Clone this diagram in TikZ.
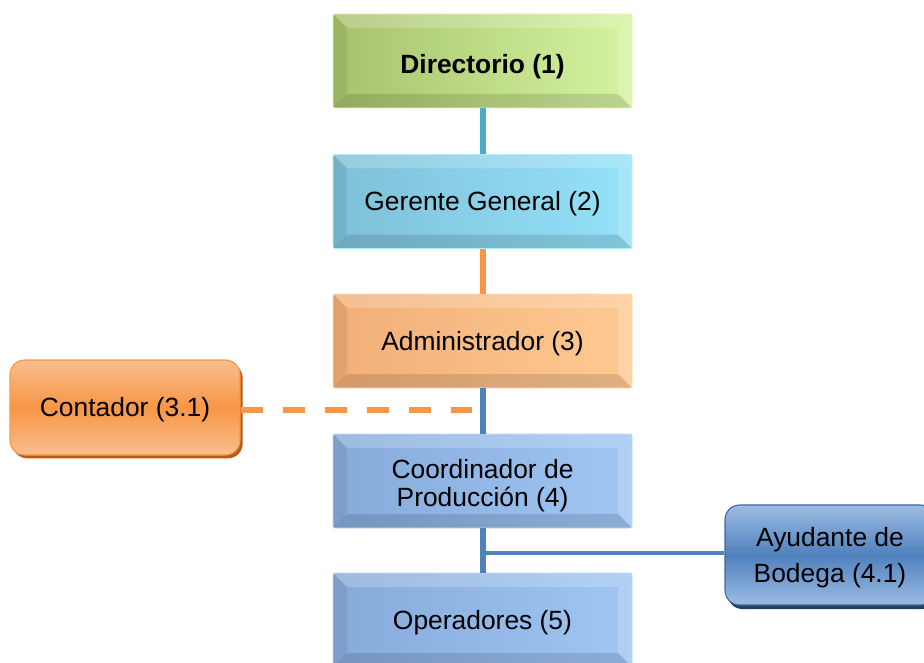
\documentclass[tikz,border=0pt]{standalone}
\usepackage{fontspec}
\setmainfont{Liberation Sans}
\usetikzlibrary{shadows}
\definecolor{grnL}{HTML}{A6C26C}
\definecolor{grnR}{HTML}{D6F3A0}
\definecolor{cyaL}{HTML}{7EC0D8}
\definecolor{cyaR}{HTML}{94E2F9}
\definecolor{orgL}{HTML}{F2AE78}
\definecolor{orgR}{HTML}{FECA92}
\definecolor{bluL}{HTML}{86AAD9}
\definecolor{bluR}{HTML}{A0C6F4}
\definecolor{lineTeal}{HTML}{4BACC6}
\definecolor{lineOrg}{HTML}{F79646}
\definecolor{lineBlu}{HTML}{4F81BD}
\definecolor{ctaMid}{HTML}{F79646}
\definecolor{ctaEdge}{HTML}{F9BE8E}
\definecolor{ctaShadow}{HTML}{B85A12}
\definecolor{ayuMid}{HTML}{4F81BD}
\definecolor{ayuEdge}{HTML}{9DBCE2}
\definecolor{ayuShadow}{HTML}{243F60}
\tikzset{
  bevel/.style={rectangle, minimum width=224.25pt, minimum height=70.5pt, inner sep=0pt,
    align=center, font=\fontsize{19.8}{21}\selectfont, rounded corners=1.5pt,
    text height=14.2pt, text depth=0pt,
    path picture={
      \fill[white,opacity=0.2] (path picture bounding box.north west) -- (path picture bounding box.north east)
        -- ([xshift=-10.5pt,yshift=-10.5pt]path picture bounding box.north east)
        -- ([xshift=10.5pt,yshift=-10.5pt]path picture bounding box.north west) -- cycle;
      \fill[white,opacity=0.18] (path picture bounding box.north east) -- (path picture bounding box.south east)
        -- ([xshift=-10.5pt,yshift=10.5pt]path picture bounding box.south east)
        -- ([xshift=-10.5pt,yshift=-10.5pt]path picture bounding box.north east) -- cycle;
      \fill[black,opacity=0.07] (path picture bounding box.north west) -- (path picture bounding box.south west)
        -- ([xshift=10.5pt,yshift=10.5pt]path picture bounding box.south west)
        -- ([xshift=10.5pt,yshift=-10.5pt]path picture bounding box.north west) -- cycle;
      \fill[black,opacity=0.12] (path picture bounding box.south west) -- (path picture bounding box.south east)
        -- ([xshift=-10.5pt,yshift=10.5pt]path picture bounding box.south east)
        -- ([xshift=10.5pt,yshift=10.5pt]path picture bounding box.south west) -- cycle;
    }},
  rbox/.style={rectangle, rounded corners=11pt, inner sep=0pt, align=center,
    font=\fontsize{19.8}{21}\selectfont, line width=0.8pt},
  vline/.style={line width=4.5pt},
}
\begin{document}
\begin{tikzpicture}[x=0.75pt,y=-0.75pt]
\useasboundingbox (0,0) rectangle (924,663);

\node[bevel, left color=grnL, right color=grnR, draw=grnR!80!white, font=\fontsize{19.8}{21}\selectfont\bfseries, text height=18.7pt] (dir) at (482.5,61) {Directorio (1)};
\node[bevel, left color=cyaL, right color=cyaR, draw=cyaR!70!white] (ger) at (482.5,201.5) {Gerente General (2)};
\node[bevel, left color=orgL, right color=orgR, draw=orgR!70!white] (adm) at (482.5,341) {Administrador (3)};
\node[bevel, left color=bluL, right color=bluR, draw=bluR!70!white, text height=38.2pt, text depth=0pt] (coo) at (482.5,481) {Coordinador de\\Producción (4)};
\node[bevel, left color=bluL, right color=bluR, draw=bluR!70!white] (ope) at (482.5,620) {Operadores (5)};

\node[rbox, minimum width=172.5pt, minimum height=71.25pt, top color=ctaEdge, bottom color=ctaEdge, middle color=ctaMid, draw=lineOrg,
  text height=14.2pt, text depth=0pt,
  drop shadow={shadow xshift=2pt, shadow yshift=-2.5pt, fill=ctaShadow, opacity=1}] (con) at (125,407.5) {Contador (3.1)};
\node[rbox, minimum width=157.5pt, minimum height=75pt, top color=ayuEdge, bottom color=ayuEdge, middle color=ayuMid, draw=lineBlu!80!black,
  drop shadow={shadow xshift=2pt, shadow yshift=-3pt, fill=ayuShadow, opacity=1},
  text height=41.2pt, text depth=0pt,
  font=\fontsize{19.8}{27}\selectfont] (ayu) at (830,555) {Ayudante de\\Bodega (4.1)};

\draw[vline, lineTeal] (dir.south) -- (ger.north);
\draw[vline, lineOrg] (ger.south) -- (adm.north);
\draw[vline, lineBlu] (adm.south) -- (coo.north);
\draw[vline, lineBlu] (coo.south) -- (ope.north);

\coordinate (dashEnd) at (472,410);
\coordinate (ayuJoin) at (480.25,553);
\draw[line width=4.5pt, lineOrg, dash pattern=on 16.5pt off 15pt] (con.east |- dashEnd) -- (dashEnd);
\draw[line width=3pt, lineBlu] (ayuJoin) -- (ayu.west |- ayuJoin);
\end{tikzpicture}
\end{document}
